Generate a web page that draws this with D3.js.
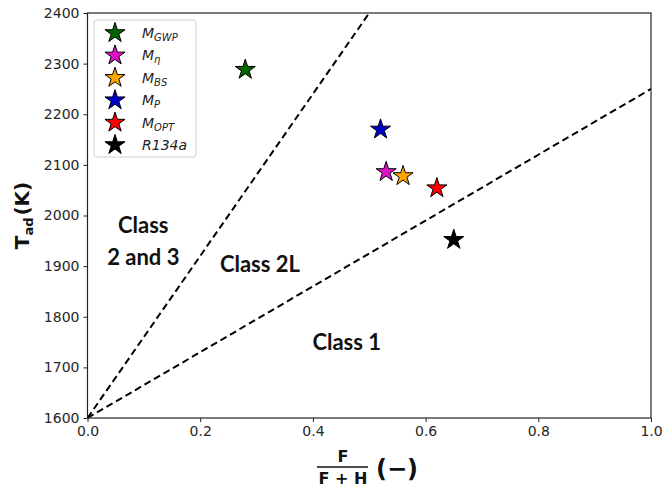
<!DOCTYPE html>
<html lang="en">
<head>
    <meta charset="UTF-8">
    <title>Tad vs F/(F+H)</title>
    <style>
        body{
            margin: 0;
            background: #fff;
            font-family: "DejaVu Sans";
        }
        svg{
            display: block;
        }
        .tick text{
            font-size: 14px;
            fill: #262626;
        }
        .class-label{
            font-family: Lato, "Open Sans";
            font-weight: bold;
            font-size: 22px;
            text-anchor: middle;
            fill: #111;
        }
        .legend-text{
            font-size: 14px;
            font-style: italic;
            fill: #222;
        }
    </style>
    <script src="https://d3js.org/d3.v7.min.js"></script>
</head>
<body>
    <script>
        // refrigerant mixtures
        var names = ["GWP", "η", "BS", "P", "OPT", "R134a"];
        var fRatio = [0.28, 0.53, 0.56, 0.52, 0.62, 0.65];
        var tad = [2288, 2086, 2078, 2170, 2054, 1952];
        var colors = ["darkgreen", "#e010c8", "orange", "#0000cc", "red", "black"];
        // class boundaries, [x0, y0, x1, y1]
        var boundaries = [[0, 1600, 0.5, 2400], [0, 1600, 1.0, 2250]];
        var classNames = [["Class", "2 and 3"], ["Class 2L"], ["Class 1"]];
        var classPos = [[0.099, 1965], [0.306, 1888], [0.46, 1734]];
        var xTicks = [0, 0.2, 0.4, 0.6, 0.8, 1.0];
        var yTicks = [1600, 1700, 1800, 1900, 2000, 2100, 2200, 2300, 2400];

        var W = 662, H = 488;
        var mLeft = 87.5, mRight = 651, mTop = 13, mBottom = 418;

        var svg = d3.select("body").append("svg")
                    .attr("width", W)
                    .attr("height", H);

        var x = d3.scaleLinear().domain([0, 1]).range([mLeft, mRight]);
        var y = d3.scaleLinear().domain([1600, 2400]).range([mBottom, mTop]);

        // boundaries
        svg.append("g").selectAll("line")
            .data(boundaries).join("line")
            .attr("x1", d => x(d[0]))
            .attr("y1", d => y(d[1]))
            .attr("x2", d => x(d[2]))
            .attr("y2", d => y(d[3]))
            .attr("stroke", "black")
            .attr("stroke-width", 2)
            .attr("stroke-dasharray", "7,4");

        // class labels
        var cl = svg.append("g");
        for(var i=0; i<classNames.length; i++){
            var t = cl.append("text")
                .attr("class", "class-label")
                .attr("x", x(classPos[i][0]))
                .attr("y", y(classPos[i][1]));
            for(var j=0; j<classNames[i].length; j++){
                t.append("tspan")
                    .attr("x", x(classPos[i][0]))
                    .attr("dy", j == 0 ? 0 : 32)
                    .text(classNames[i][j]);
            }
        }

        // frame
        svg.append("rect")
            .attr("x", mLeft).attr("y", mTop)
            .attr("width", mRight - mLeft).attr("height", mBottom - mTop)
            .attr("fill", "none")
            .attr("stroke", "#222")
            .attr("stroke-width", 1.2);

        svg.append("g")
            .attr("transform", "translate(0," + mBottom + ")")
            .call(d3.axisBottom(x).tickValues(xTicks).tickFormat(d3.format(".1f")).tickSizeOuter(0).tickSize(4).tickPadding(4));
        svg.append("g")
            .attr("transform", "translate(" + mLeft + ",0)")
            .call(d3.axisLeft(y).tickValues(yTicks).tickFormat(d3.format("d")).tickSizeOuter(0).tickSize(4).tickPadding(4));
        svg.selectAll(".domain").remove();
        svg.selectAll(".tick line").attr("stroke", "#222");
        svg.selectAll(".tick text").attr("font-family", "DejaVu Sans");

        // stars
        var star = d3.symbol(d3.symbolStar).size(125);
        svg.append("g").selectAll("path")
            .data(names).join("path")
            .attr("d", star)
            .attr("transform", (d, i) => "translate(" + x(fRatio[i]) + "," + y(tad[i]) + ")")
            .attr("fill", (d, i) => colors[i])
            .attr("stroke", "black")
            .attr("stroke-width", 1);

        // legend
        var lg = svg.append("g").attr("transform", "translate(94,20)");
        lg.append("rect")
            .attr("width", 102).attr("height", 137)
            .attr("rx", 3)
            .attr("fill", "white")
            .attr("fill-opacity", 0.8)
            .attr("stroke", "#d0d0d0");
        var rows = lg.selectAll("g.row")
            .data(names).join("g")
            .attr("class", "row")
            .attr("transform", (d, i) => "translate(0," + (13 + i * 22.4) + ")");
        rows.append("path")
            .attr("d", star)
            .attr("transform", "translate(21,0)")
            .attr("fill", (d, i) => colors[i])
            .attr("stroke", "black")
            .attr("stroke-width", 1);
        var lt = rows.append("text")
            .attr("class", "legend-text")
            .attr("x", 48)
            .attr("y", 5);
        lt.each(function(d){
            var e = d3.select(this);
            if(d == "R134a"){
                e.text(d);
            } else {
                e.append("tspan").text("M");
                e.append("tspan").attr("dy", 3).attr("font-size", "10px").text(d);
            }
        });

        // y label
        var yl = svg.append("text")
            .attr("transform", "translate(29," + ((mTop + mBottom) / 2) + ") rotate(-90)")
            .attr("text-anchor", "middle")
            .attr("font-weight", "bold")
            .attr("font-size", "20px")
            .attr("fill", "#111");
        yl.append("tspan").text("T");
        yl.append("tspan").attr("dy", 4).attr("font-size", "13px").text("ad");
        yl.append("tspan").attr("dy", -4).attr("dx", 2).text("(K)");

        // x label: fraction F / (F + H) then (−)
        var xl = svg.append("g").attr("fill", "#111").attr("font-weight", "bold");
        xl.append("text")
            .attr("x", 343).attr("y", 462)
            .attr("text-anchor", "middle")
            .attr("font-size", "16px")
            .text("F");
        xl.append("line")
            .attr("x1", 317).attr("x2", 368)
            .attr("y1", 467).attr("y2", 467)
            .attr("stroke", "#111").attr("stroke-width", 1.5);
        xl.append("text")
            .attr("x", 343).attr("y", 484)
            .attr("text-anchor", "middle")
            .attr("font-size", "16px")
            .text("F + H");
        xl.append("text")
            .attr("x", 376).attr("y", 477)
            .attr("font-size", "24px")
            .text("(−)");
    </script>
</body>
</html>
